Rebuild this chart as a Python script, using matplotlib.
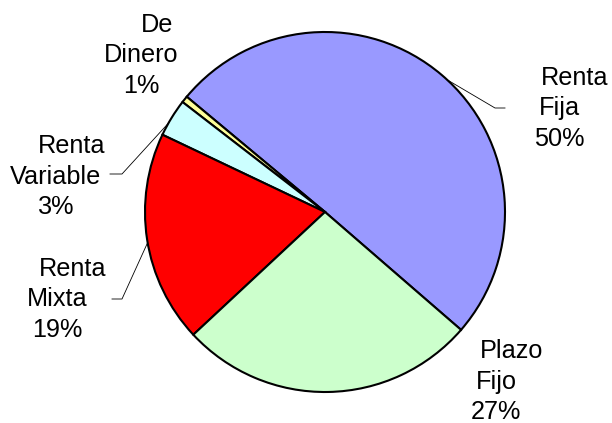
import numpy as np
import matplotlib
matplotlib.use("Agg")
from matplotlib import pyplot as plt

# fund types, counter-clockwise from the lower-right edge of "Renta Fija"
names = [["Renta", "Fija"], ["De", "Dinero"], ["Renta", "Variable"],
         ["Renta", "Mixta"], ["Plazo", "Fijo"]]
shares = [50.3, 0.6, 3.4, 19.0, 26.7]
colors = ["#9999FF", "#FFFF99", "#CCFFFF", "#FF0000", "#CCFFCC"]

# label placement in pixels (x of lines 2-3, baseline of first line), and
# where the leader line bends / ends
label_pos = [(559, 85), (141, 32), (56, 153), (57, 276), (496, 358)]
leader_end = [(495, 108), None, (122, 174), (122, 299), None]
leader_tail = [(505, 108), None, (110, 174), (112, 299), None]
leader_angle = [47.3, None, 150.4, 189.8, None]

W, H = 612, 423
CX, CY = 325, 212
R = 180

fig = plt.figure(figsize=(W / 100, H / 100), dpi=100)
ax = fig.add_axes([0, 0, 1, 1])

wedges, _ = ax.pie(shares, colors=colors, radius=R, startangle=-40.9,
                   counterclock=True,
                   wedgeprops=dict(edgecolor="black", linewidth=1.5))
ax.set_xlim(-CX, W - CX)
ax.set_ylim(CY - H, CY)
ax.set_aspect("equal")
ax.axis("off")


def px(x, y):
    # image pixel -> data coords
    return x - CX, CY - y


font = dict(family=["Liberation Sans", "DejaVu Sans"], fontsize=18.2)
step = 30.5
for i, w in enumerate(wedges):
    x, y0 = label_pos[i]
    lines = names[i] + ["%.0f%%" % shares[i]]
    for k, s in enumerate(lines):
        dx = 16 if k == 0 else 0
        ax.text(*px(x + dx, y0 + k * step), s, ha="center", va="baseline",
                color="black", **font)
    if leader_end[i] is not None:
        a = np.deg2rad(leader_angle[i])
        sx, sy = R * np.cos(a), R * np.sin(a)
        ex, ey = px(*leader_end[i])
        tx, ty = px(*leader_tail[i])
        ax.plot([sx, ex, tx], [sy, ey, ty], color="black", linewidth=0.6)

fig.savefig("out.png", dpi=100)
